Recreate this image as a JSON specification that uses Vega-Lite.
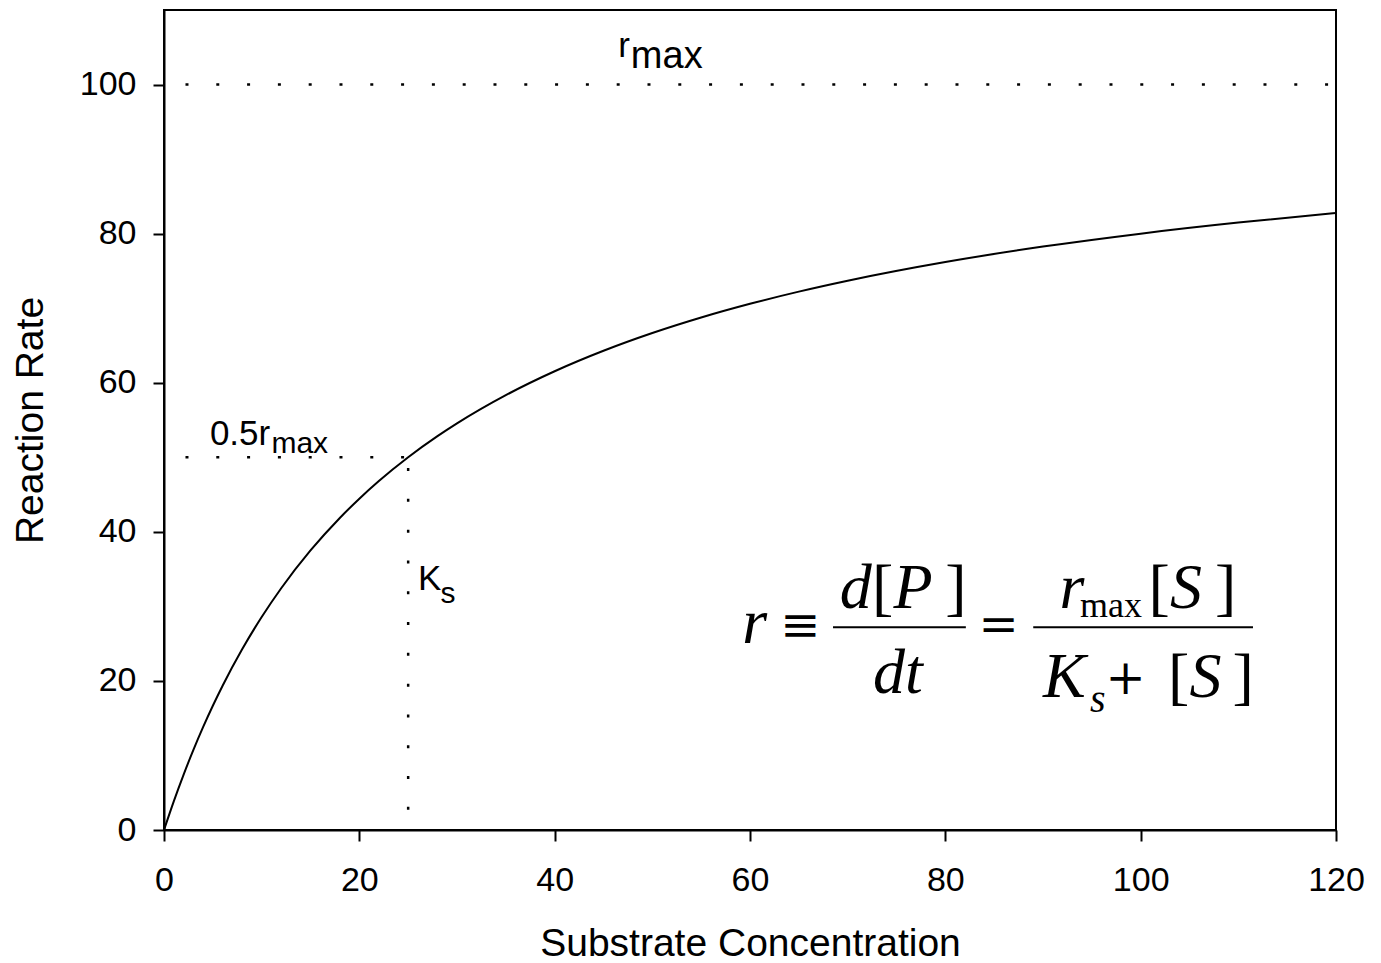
{
  "$schema": "https://vega.github.io/schema/vega-lite/v6.json",
  "width": 1172,
  "height": 820,
  "autosize": {"type": "none"},
  "padding": {"left": 164, "top": 10, "right": 45, "bottom": 133},
  "background": "white",
  "config": {
    "view": {"stroke": "black", "strokeWidth": 2},
    "axis": {
      "grid": false,
      "domainColor": "black",
      "domainWidth": 2,
      "tickColor": "black",
      "tickWidth": 2,
      "tickSize": 11,
      "labelFont": "Liberation Sans",
      "labelFontSize": 34,
      "labelColor": "black",
      "labelFlush": false,
      "labelOverlap": false,
      "titleFont": "Liberation Sans",
      "titleFontSize": 39,
      "titleFontWeight": "normal",
      "titleColor": "black"
    }
  },
  "datasets": {
    "curve": [
      {"x": 0, "y": 0}, {"x": 1, "y": 3.846}, {"x": 2, "y": 7.407}, {"x": 3, "y": 10.714},
      {"x": 4, "y": 13.793}, {"x": 5, "y": 16.667}, {"x": 6, "y": 19.355}, {"x": 8, "y": 24.242},
      {"x": 10, "y": 28.571}, {"x": 12, "y": 32.432}, {"x": 15, "y": 37.5}, {"x": 18, "y": 41.86},
      {"x": 20, "y": 44.444}, {"x": 22, "y": 46.809}, {"x": 25, "y": 50}, {"x": 28, "y": 52.83},
      {"x": 30, "y": 54.545}, {"x": 35, "y": 58.333}, {"x": 40, "y": 61.538}, {"x": 45, "y": 64.286},
      {"x": 50, "y": 66.667}, {"x": 55, "y": 68.75}, {"x": 60, "y": 70.588}, {"x": 65, "y": 72.222},
      {"x": 70, "y": 73.684}, {"x": 80, "y": 76.19}, {"x": 90, "y": 78.261}, {"x": 100, "y": 80},
      {"x": 110, "y": 81.481}, {"x": 120, "y": 82.759}
    ],
    "guides": [
      {"x": 2.2, "x2": 120, "y": 100, "y2": 100},
      {"x": 2.2, "x2": 25, "y": 50, "y2": 50},
      {"x": 25, "x2": 25, "y": 2.7, "y2": 50}
    ],
    "bars": [
      {"x": 68.5, "x2": 82.1, "y": 27.2, "y2": 27.2},
      {"x": 89.0, "x2": 111.5, "y": 27.2, "y2": 27.2}
    ],
    "labelsBig": [
      {"x": 46.5, "y": 103.7, "t": "r"},
      {"x": 4.7, "y": 51.6, "t": "0.5r"},
      {"x": 26.0, "y": 32.2, "t": "K"}
    ],
    "labelsTop": [
      {"x": 47.8, "y": 102.2, "t": "max"}
    ],
    "labelsSub": [
      {"x": 11.0, "y": 50.6, "t": "max"},
      {"x": 28.3, "y": 30.5, "t": "s"}
    ],
    "eqItalic": [
      {"x": 59.2, "y": 25.1, "t": "r"},
      {"x": 69.2, "y": 29.8, "t": "d"},
      {"x": 74.7, "y": 29.8, "t": "P"},
      {"x": 72.6, "y": 18.4, "t": "dt"},
      {"x": 91.7, "y": 29.8, "t": "r"},
      {"x": 103.0, "y": 29.8, "t": "S"},
      {"x": 90.0, "y": 17.8, "t": "K"},
      {"x": 105.0, "y": 17.8, "t": "S"}
    ],
    "eqRoman": [
      {"x": 72.5, "y": 29.8, "t": "["},
      {"x": 80.0, "y": 29.8, "t": "]"},
      {"x": 100.8, "y": 29.8, "t": "["},
      {"x": 107.6, "y": 29.8, "t": "]"},
      {"x": 102.8, "y": 17.8, "t": "["},
      {"x": 109.4, "y": 17.8, "t": "]"}
    ],
    "eqOps": [
      {"x": 63.1, "y": 27.2, "t": "≡"},
      {"x": 83.4, "y": 27.2, "t": "="},
      {"x": 96.4, "y": 20.1, "t": "+"}
    ],
    "eqSub": [
      {"x": 93.8, "y": 28.6, "t": "max"}
    ],
    "eqSubItalic": [
      {"x": 94.8, "y": 15.8, "t": "s"}
    ]
  },
  "encoding": {
    "x": {
      "field": "x", "type": "quantitative",
      "scale": {"domain": [0, 120], "nice": false, "zero": false},
      "axis": {"values": [0, 20, 40, 60, 80, 100, 120], "labelPadding": 22, "titlePadding": 27, "title": "Substrate Concentration"}
    },
    "y": {
      "field": "y", "type": "quantitative",
      "scale": {"domain": [0, 110], "nice": false, "zero": false},
      "axis": {"values": [0, 20, 40, 60, 80, 100], "labelPadding": 17, "titlePadding": 29, "title": "Reaction Rate"}
    }
  },
  "layer": [
    {
      "data": {"name": "curve"},
      "mark": {"type": "line", "color": "black", "strokeWidth": 2, "interpolate": "monotone", "clip": true}
    },
    {
      "data": {"name": "guides"},
      "mark": {"type": "rule", "color": "black", "strokeWidth": 2.5, "strokeDash": [3, 27.8]},
      "encoding": {"x2": {"field": "x2"}, "y2": {"field": "y2"}}
    },
    {
      "data": {"name": "bars"},
      "mark": {"type": "rule", "color": "black", "strokeWidth": 2},
      "encoding": {"x2": {"field": "x2"}, "y2": {"field": "y2"}}
    },
    {
      "data": {"name": "labelsBig"},
      "mark": {"type": "text", "font": "Liberation Sans", "fontSize": 35, "align": "left", "baseline": "alphabetic", "color": "black"},
      "encoding": {"text": {"field": "t"}}
    },
    {
      "data": {"name": "labelsTop"},
      "mark": {"type": "text", "font": "Liberation Sans", "fontSize": 38, "align": "left", "baseline": "alphabetic", "color": "black"},
      "encoding": {"text": {"field": "t"}}
    },
    {
      "data": {"name": "labelsSub"},
      "mark": {"type": "text", "font": "Liberation Sans", "fontSize": 30, "align": "left", "baseline": "alphabetic", "color": "black"},
      "encoding": {"text": {"field": "t"}}
    },
    {
      "data": {"name": "eqItalic"},
      "mark": {"type": "text", "font": "Liberation Serif", "fontStyle": "italic", "fontSize": 64, "align": "left", "baseline": "alphabetic", "color": "black"},
      "encoding": {"text": {"field": "t"}}
    },
    {
      "data": {"name": "eqRoman"},
      "mark": {"type": "text", "font": "Liberation Serif", "fontSize": 64, "align": "left", "baseline": "alphabetic", "color": "black"},
      "encoding": {"text": {"field": "t"}}
    },
    {
      "data": {"name": "eqOps"},
      "mark": {"type": "text", "font": "DejaVu Serif", "fontSize": 48, "align": "left", "baseline": "middle", "color": "black"},
      "encoding": {"text": {"field": "t"}}
    },
    {
      "data": {"name": "eqSub"},
      "mark": {"type": "text", "font": "Liberation Serif", "fontSize": 36, "align": "left", "baseline": "alphabetic", "color": "black"},
      "encoding": {"text": {"field": "t"}}
    },
    {
      "data": {"name": "eqSubItalic"},
      "mark": {"type": "text", "font": "Liberation Serif", "fontStyle": "italic", "fontSize": 40, "align": "left", "baseline": "alphabetic", "color": "black"},
      "encoding": {"text": {"field": "t"}}
    }
  ]
}
